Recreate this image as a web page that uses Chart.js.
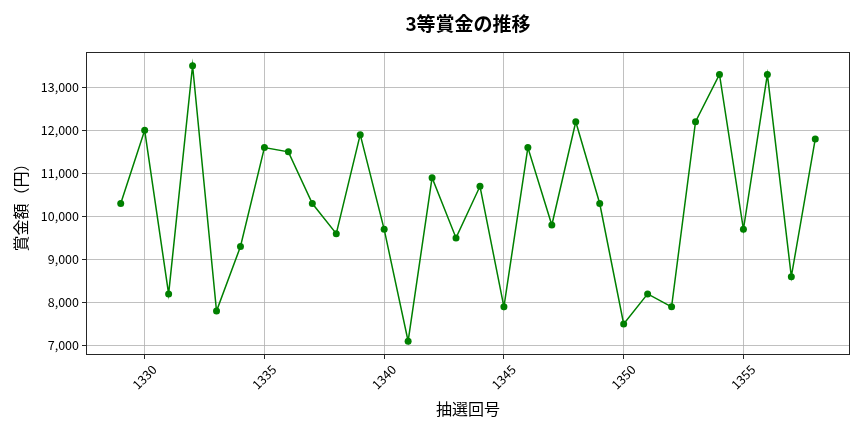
<!DOCTYPE html>
<html>
<head>
<meta charset="utf-8">
<script src="https://cdn.jsdelivr.net/npm/chart.js@4/dist/chart.umd.min.js"></script>
<style>
  html, body { margin: 0; padding: 0; background: #fff; }
  #wrap { width: 864px; height: 432px; }
</style>
</head>
<body>
<div id="wrap"><canvas id="c" width="864" height="432"></canvas></div>
<script>
const draws = [1329,1330,1331,1332,1333,1334,1335,1336,1337,1338,1339,1340,1341,1342,1343,1344,1345,1346,1347,1348,1349,1350,1351,1352,1353,1354,1355,1356,1357,1358];
const prizes = [10300,12000,8200,13500,7800,9300,11600,11500,10300,9600,11900,9700,7100,10900,9500,10700,7900,11600,9800,12200,10300,7500,8200,7900,12200,13300,9700,13300,8600,11800];
const xTicks = [1330,1335,1340,1345,1350,1355];
const yTicks = [7000,8000,9000,10000,11000,12000,13000];
const titleText = '3等賞金の推移';

const FONT = "'Noto Sans CJK JP', 'Noto Sans', sans-serif";
Chart.defaults.font.family = FONT;
Chart.defaults.color = '#000';

const frame = {
  id: 'frame',
  afterDraw(chart) {
    const {ctx, chartArea: a} = chart;
    ctx.save();
    ctx.strokeStyle = '#262626';
    ctx.lineWidth = 1;
    ctx.strokeRect(a.left + 0.5, a.top + 0.5, a.right - a.left - 1, a.bottom - a.top - 1);
    ctx.fillStyle = '#000';
    ctx.font = "bold 19px " + FONT;
    ctx.textAlign = 'center';
    ctx.textBaseline = 'middle';
    ctx.fillText(titleText, (a.left + a.right) / 2, 24);
    ctx.restore();
  }
};

const xMin = draws[0] - 0.05 * (draws[draws.length-1] - draws[0]);
const xMax = draws[draws.length-1] + 0.05 * (draws[draws.length-1] - draws[0]);
const pMin = Math.min(...prizes), pMax = Math.max(...prizes);
const yMin = pMin - 0.05 * (pMax - pMin);
const yMax = pMax + 0.05 * (pMax - pMin);

new Chart(document.getElementById('c'), {
  type: 'line',
  data: {
    datasets: [{
      data: draws.map((d, i) => ({x: d, y: prizes[i]})),
      borderColor: '#008000',
      backgroundColor: '#008000',
      borderWidth: 1.5,
      pointRadius: 3.5,
      pointHoverRadius: 3.5,
      pointBorderWidth: 0,
      tension: 0,
      fill: false
    }]
  },
  plugins: [frame],
  options: {
    responsive: false,
    animation: false,
    events: [],
    layout: { padding: { left: 0, right: 14, top: 52, bottom: 0 } },
    plugins: {
      legend: { display: false },
      tooltip: { enabled: false },
      title: { display: false }
    },
    scales: {
      x: {
        type: 'linear',
        min: xMin,
        max: xMax,
        afterBuildTicks(scale) { scale.ticks = xTicks.map(v => ({value: v})); },
        afterFit(scale) { scale.height = 77; },
        ticks: {
          minRotation: 45,
          maxRotation: 45,
          autoSkip: false,
          padding: 3,
          labelOffset: 9.6,
          color: '#000',
          font: { family: FONT, size: 12.5 },
          callback: v => String(v)
        },
        grid: { color: '#b0b0b0', lineWidth: 0.8, tickLength: 4, tickColor: '#262626', tickWidth: 1 },
        border: { display: false },
        title: {
          display: true,
          text: '抽選回号',
          color: '#000',
          font: { family: FONT, size: 16, lineHeight: 1.2 },
          padding: { top: 0, bottom: 13.4 }
        }
      },
      y: {
        type: 'linear',
        min: yMin,
        max: yMax,
        afterBuildTicks(scale) { scale.ticks = yTicks.map(v => ({value: v})); },
        afterFit(scale) { scale.width = 86; },
        ticks: {
          padding: 3,
          color: '#000',
          font: { family: FONT, size: 12.5 },
          callback: v => Number(v).toLocaleString('en-US')
        },
        grid: { color: '#b0b0b0', lineWidth: 0.8, tickLength: 4, tickColor: '#262626', tickWidth: 1 },
        border: { display: false },
        title: {
          display: true,
          text: '賞金額（円）',
          color: '#000',
          font: { family: FONT, size: 16, lineHeight: 1.2 },
          padding: { top: 11.4, bottom: 0 }
        }
      }
    }
  }
});
</script>
</body>
</html>
